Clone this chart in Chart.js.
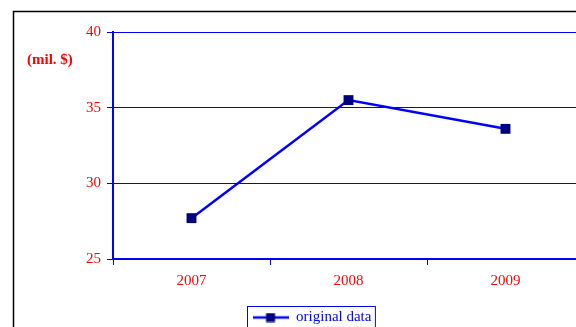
<!DOCTYPE html>
<html>
<head>
<meta charset="utf-8">
<script src="https://cdn.jsdelivr.net/npm/chart.js@4/dist/chart.umd.min.js"></script>
<style>
  html, body { margin: 0; padding: 0; background: #fff; overflow: hidden; width: 576px; height: 327px; }
  canvas { display: block; }
</style>
</head>
<body>
<canvas id="salesChart" width="622" height="337"></canvas>
<script>
const years = ['2007', '2008', '2009'];
const originalData = [27.7, 35.5, 33.6];
const yTicks = [25, 30, 35, 40];

const RED = '#ff0000';
const BLUE = '#0000ff';
const NAVY = '#000080';
const SERIF = '"Liberation Serif", "Times New Roman", serif';

// legend icon: line with a square in the middle
const icon = document.createElement('canvas');
icon.width = 36;
icon.height = 10;
const ic = icon.getContext('2d');
ic.strokeStyle = BLUE;
ic.lineWidth = 2.5;
ic.beginPath();
ic.moveTo(0, 5);
ic.lineTo(36, 5);
ic.stroke();
ic.fillStyle = NAVY;
ic.fillRect(13.5, 0.5, 9, 9);

const frame = {
    id: 'frame',
    beforeDraw(chart) {
        const ctx = chart.ctx;
        ctx.save();
        ctx.strokeStyle = '#000';
        ctx.lineWidth = 1.5;
        ctx.beginPath();
        ctx.moveTo(13.5, chart.height);
        ctx.lineTo(13.5, 11.5);
        ctx.lineTo(chart.width, 11.5);
        ctx.stroke();
        ctx.restore();
    },
    afterDraw(chart) {
        const ctx = chart.ctx;
        ctx.save();
        ctx.fillStyle = RED;
        ctx.font = 'bold 15px ' + SERIF;
        ctx.textBaseline = 'middle';
        ctx.fillText('(mil. $)', 27, 60);
        const box = chart.legend.legendHitBoxes[0];
        if (box) {
            ctx.strokeStyle = BLUE;
            ctx.lineWidth = 1;
            ctx.strokeRect(Math.round(box.left) - 5.5, Math.round(box.top) - 3.5,
                box.width + 9, chart.height);
        }
        ctx.restore();
    }
};

new Chart(document.getElementById('salesChart'), {
    type: 'line',
    data: {
        labels: years,
        datasets: [{
            label: 'original data',
            data: originalData,
            borderColor: BLUE,
            borderWidth: 2.5,
            backgroundColor: NAVY,
            pointStyle: 'rect',
            pointRadius: 7,
            pointBorderWidth: 0,
            tension: 0
        }]
    },
    options: {
        responsive: false,
        animation: false,
        layout: { padding: { top: 32, right: 38, left: 40, bottom: 2 } },
        plugins: {
            tooltip: { enabled: false },
            legend: {
                position: 'bottom',
                labels: {
                    usePointStyle: true,
                    pointStyleWidth: 36,
                    padding: 10,
                    color: BLUE,
                    font: { family: SERIF, size: 15 },
                    generateLabels: (chart) => chart.data.datasets.map((ds, i) => ({
                        text: ds.label,
                        pointStyle: icon,
                        fontColor: BLUE,
                        datasetIndex: i,
                        lineWidth: 0
                    }))
                }
            }
        },
        scales: {
            x: {
                offset: true,
                grid: { offset: true, drawOnChartArea: false, drawTicks: true, tickLength: 6, color: BLUE },
                border: { color: BLUE, width: 2 },
                ticks: { color: RED, padding: 7, font: { family: SERIF, size: 15 } },
                afterFit: (scale) => { scale.height = 41; }
            },
            y: {
                min: 25,
                max: 40,
                afterBuildTicks: (scale) => { scale.ticks = yTicks.map(v => ({ value: v })); },
                grid: { color: BLUE, lineWidth: 1, tickLength: 6, tickColor: BLUE },
                border: { color: BLUE, width: 2 },
                ticks: { color: RED, padding: 6, font: { family: SERIF, size: 15 } },
                afterFit: (scale) => { scale.width = 73; }
            }
        }
    },
    plugins: [frame]
});
</script>
</body>
</html>
